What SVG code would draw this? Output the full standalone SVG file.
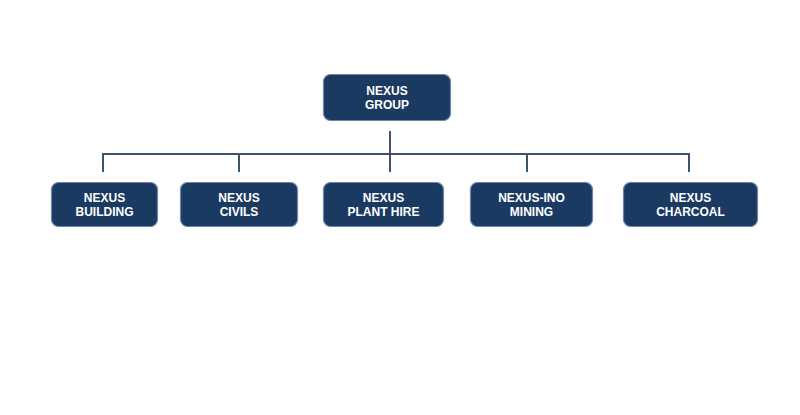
<svg xmlns="http://www.w3.org/2000/svg" width="800" height="415" viewBox="0 0 800 415">
<style>
.box{fill:#1b3a62;stroke:#6f87a6;stroke-width:1.2}
.t{font-family:"Liberation Sans",Arial,sans-serif;font-weight:bold;font-size:12px;fill:#ffffff;text-anchor:middle}
.c{fill:none;stroke:#3c5270;stroke-width:2}
</style>
<rect width="800" height="415" fill="#ffffff"/>
<g id="connectors">
<path class="c" d="M390 131V172M103 172V154H689V172M239 154V172M527 154V172"/>
</g>
<g id="nexus-group">
<rect class="box" x="323.5" y="74.5" width="127" height="46" rx="7"/>
<text class="t" x="387" y="95">NEXUS</text>
<text class="t" x="387" y="108.5">GROUP</text>
</g>
<g id="nexus-building">
<rect class="box" x="51.5" y="182.5" width="106" height="44" rx="7"/>
<text class="t" x="104.5" y="202">NEXUS</text>
<text class="t" x="104.5" y="215.5">BUILDING</text>
</g>
<g id="nexus-civils">
<rect class="box" x="180.5" y="182.5" width="117" height="44" rx="7"/>
<text class="t" x="239" y="202">NEXUS</text>
<text class="t" x="239" y="215.5">CIVILS</text>
</g>
<g id="nexus-plant-hire">
<rect class="box" x="323.5" y="182.5" width="120" height="44" rx="7"/>
<text class="t" x="383.5" y="202">NEXUS</text>
<text class="t" x="383.5" y="215.5">PLANT HIRE</text>
</g>
<g id="nexus-ino-mining">
<rect class="box" x="470.5" y="182.5" width="122" height="44" rx="7"/>
<text class="t" x="531.5" y="202">NEXUS-INO</text>
<text class="t" x="531.5" y="215.5">MINING</text>
</g>
<g id="nexus-charcoal">
<rect class="box" x="623.5" y="182.5" width="134" height="44" rx="7"/>
<text class="t" x="690.5" y="202">NEXUS</text>
<text class="t" x="690.5" y="215.5">CHARCOAL</text>
</g>
</svg>
